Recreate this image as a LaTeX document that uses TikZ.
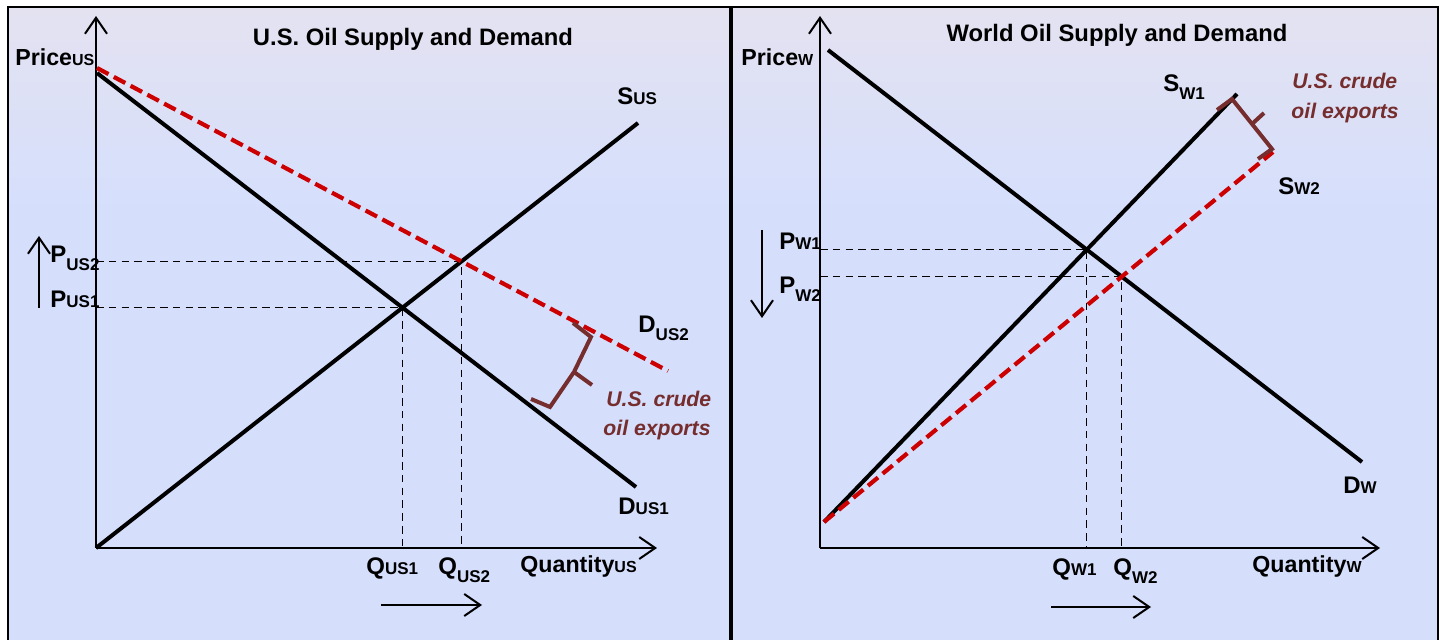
\documentclass[tikz,border=0pt]{standalone}
\usepackage{fontspec}
\setmainfont{Liberation Sans}
\usetikzlibrary{arrows.meta,intersections}
\definecolor{bgtop}{RGB}{228,226,241}
\definecolor{bgbot}{RGB}{213,223,252}
\definecolor{oilred}{RGB}{204,0,0}
\definecolor{braceBrown}{RGB}{117,45,45}
\newcommand\fsz[1]{\fontsize{#1}{#1}\selectfont}
\newcommand\labA[2]{{\fsz{12}#1}{\fsz{8.5}#2}}
\newcommand\labB[2]{{\fsz{12}#1}\raisebox{-4pt}{\fsz{8.5}#2}}
\newcommand\labC[2]{{\fsz{11.6}#1}{\fsz{8}#2}}
\tikzset{
  panelframe/.style={draw=black, line width=1pt},
  axisline/.style={line width=1pt, -{Straight Barb[length=8pt,width=11pt]}},
  curve/.style={line width=2pt},
  redcurve/.style={line width=2.1pt, draw=oilred, dash pattern=on 6.5pt off 3pt},
  guide/.style={line width=0.65pt, dash pattern=on 3.8pt off 2.6pt},
  bracebox/.style={draw=braceBrown, line width=2pt, line join=miter},
  lbl/.style={inner sep=0pt, anchor=base west, font=\bfseries},
  note/.style={inner sep=0pt, anchor=base west, font=\fsz{10.6}\bfseries\itshape, text=braceBrown},
  titlelbl/.style={inner sep=0pt, anchor=base, font=\fsz{11.9}\bfseries},
  shiftarrow/.style={line width=1pt, -{Straight Barb[length=8pt,width=11pt]}}
}
\begin{document}
\begin{tikzpicture}[x=0.5pt,y=-0.5pt]
\useasboundingbox (0,0) rectangle (1442,640);
% backgrounds
\shade[top color=bgtop, bottom color=bgbot] (8,7) rectangle (730,210);
\fill[bgbot] (8,209) rectangle (730,640);
\shade[top color=bgtop, bottom color=bgbot] (731,7) rectangle (1438,210);
\fill[bgbot] (731,209) rectangle (1438,640);
\draw[panelframe] (8,641) -- (8,7) -- (730,7) -- (730,641);
\draw[panelframe] (732,641) -- (732,7) -- (1438,7) -- (1438,641);

% ===== LEFT PANEL =====
\node[titlelbl] (t1) at (413,46) {U.S. Oil Supply and Demand};
\coordinate (LO) at (96,548);
\coordinate (LYtop) at (96,16);
\coordinate (LXend) at (657,548);
\coordinate (D1a) at (97,73);
\coordinate (D1b) at (636,487);
\coordinate (D2a) at (97,68);
\coordinate (D2b) at (668,371);
\coordinate (Sb) at (638,123);
\path[name path=sUS] (LO) -- (Sb);
\path[name path=d1] (D1a) -- (D1b);
\path[name path=d2] (D2a) -- (D2b);
\path[name intersections={of=sUS and d1, by=E1}];
\path[name intersections={of=sUS and d2, by=E2}];
\draw[guide] (E1 -| LO) -- (E1) -- (E1 |- LO);
\draw[guide] (E2 -| LO) -- (E2) -- (E2 |- LO);
\draw[axisline] (LO) -- (LYtop);
\draw[axisline] (LO) -- (LXend);
\draw[curve] (LO) -- (Sb);
\draw[curve] (D1a) -- (D1b);
\draw[redcurve] (D2a) -- (D2b);
\draw[bracebox] (573,323) -- (591,337) -- (574,372) -- (550,407) -- (531,399);
\draw[bracebox] (574,372) -- (592,385);
\node[note] (n1a) at (606,407) {U.S. crude};
\node[note] (n1b) at (603,436) {oil exports};
\node[lbl] (priceUS) at (15,66) {\labC{Price}{US}};
\node[lbl] (sUSl) at (617,105) {\labA{S}{US}};
\node[lbl] (dUS2l) at (638,333) {\labB{D}{US2}};
\node[lbl] (dUS1l) at (618,515) {\labA{D}{US1}};
\node[lbl] (pUS2l) at (50,263) {\labB{P}{US2}};
\node[lbl] (pUS1l) at (50,308) {\labA{P}{US1}};
\node[lbl] (qUS1l) at (366,575) {\labA{Q}{US1}};
\node[lbl] (qUS2l) at (438,575) {\labB{Q}{US2}};
\node[lbl] (quantUS) at (520,573) {\labC{Quantity}{US}};
\coordinate (ua1) at (39,308);
\coordinate (ua2) at (39,236);
\draw[shiftarrow] (ua1) -- (ua2);
\coordinate (ra1) at (381,605);
\coordinate (ra2) at (482,605);
\draw[shiftarrow] (ra1) -- (ra2);

% ===== RIGHT PANEL =====
\node[titlelbl] (t2) at (1117,42) {World Oil Supply and Demand};
\coordinate (RO) at (820,548);
\coordinate (RYtop) at (820,16);
\coordinate (RXend) at (1380,548);
\coordinate (DWa) at (828,50);
\coordinate (DWb) at (1362,462);
\coordinate (SWa) at (824,522);
\coordinate (SW1b) at (1237,94);
\coordinate (SW2b) at (1273,152);
\path[name path=dW] (DWa) -- (DWb);
\path[name path=sW1] (SWa) -- (SW1b);
\path[name path=sW2] (SWa) -- (SW2b);
\path[name intersections={of=dW and sW1, by=F1}];
\path[name intersections={of=dW and sW2, by=F2}];
\draw[guide] (F1 -| RO) -- (F1) -- (F1 |- RO);
\draw[guide] (F2 -| RO) -- (F2) -- (F2 |- RO);
\draw[axisline] (RO) -- (RYtop);
\draw[axisline] (RO) -- (RXend);
\draw[curve] (DWa) -- (DWb);
\draw[curve] (SWa) -- (SW1b);
\draw[redcurve] (SWa) -- (SW2b);
\draw[bracebox] (1217,110) -- (1232,99) -- (1272,149) -- (1258,159);
\draw[bracebox] (1252,124) -- (1264,113);
\node[note] (n2a) at (1292,89) {U.S. crude};
\node[note] (n2b) at (1291,119) {oil exports};
\node[lbl] (priceW) at (741,66) {\labC{Price}{W}};
\node[lbl] (sW1l) at (1163,92) {\labB{S}{W1}};
\node[lbl] (sW2l) at (1278,195) {\labA{S}{W2}};
\node[lbl] (dWl) at (1343,494) {\labA{D}{W}};
\node[lbl] (pW1l) at (779,250) {\labA{P}{W1}};
\node[lbl] (pW2l) at (779,294) {\labB{P}{W2}};
\node[lbl] (qW1l) at (1052,576) {\labA{Q}{W1}};
\node[lbl] (qW2l) at (1113,576) {\labB{Q}{W2}};
\node[lbl] (quantW) at (1252,573) {\labC{Quantity}{W}};
\coordinate (da1) at (762,230);
\coordinate (da2) at (762,318);
\draw[shiftarrow] (da1) -- (da2);
\coordinate (rb1) at (1051,607);
\coordinate (rb2) at (1151,607);
\draw[shiftarrow] (rb1) -- (rb2);
\end{tikzpicture}
\end{document}
